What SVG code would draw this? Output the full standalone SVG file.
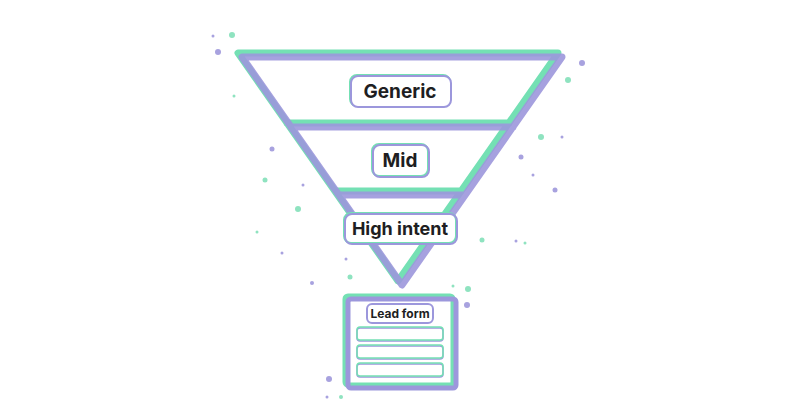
<svg xmlns="http://www.w3.org/2000/svg" width="800" height="420" viewBox="0 0 800 420">
<style>
.g{fill:none;stroke:#74e0b4;stroke-linejoin:round;stroke-linecap:round}
.p{fill:none;stroke:#9c97dc;stroke-linejoin:round;stroke-linecap:round}
.lb{fill:#fff;stroke-width:2}
.t{font-family:Inter,"Liberation Sans",sans-serif;font-weight:700;fill:#1e1e22;text-anchor:middle}
.dg{fill:#8fe3c0}.dp{fill:#a8a2df}
</style>
<rect width="800" height="420" fill="#fff"/>
<g id="dots">
<circle class="dg" cx="232" cy="35" r="3"/><circle class="dp" cx="218" cy="52" r="3"/><circle class="dp" cx="213" cy="36" r="1.5"/>
<circle class="dg" cx="568" cy="80" r="3"/><circle class="dp" cx="582" cy="63" r="3"/><circle class="dg" cx="234" cy="96" r="1.5"/>
<circle class="dg" cx="541" cy="137" r="3"/><circle class="dp" cx="562" cy="137" r="1.5"/><circle class="dp" cx="272" cy="149" r="2.5"/>
<circle class="dp" cx="521" cy="157" r="2.5"/><circle class="dg" cx="265" cy="180" r="2.5"/><circle class="dp" cx="303" cy="185" r="1.5"/>
<circle class="dp" cx="555" cy="190" r="2.5"/><circle class="dp" cx="533" cy="175" r="1.5"/><circle class="dg" cx="298" cy="209" r="3"/>
<circle class="dg" cx="257" cy="232" r="1.5"/><circle class="dp" cx="516" cy="241" r="1.5"/><circle class="dg" cx="482" cy="240" r="2.5"/>
<circle class="dp" cx="282" cy="253" r="1.5"/><circle class="dp" cx="346" cy="259" r="1.5"/><circle class="dg" cx="350" cy="277" r="2.5"/>
<circle class="dp" cx="312" cy="283" r="2"/><circle class="dg" cx="453" cy="286" r="1.5"/><circle class="dg" cx="468" cy="289" r="3"/>
<circle class="dp" cx="467" cy="305" r="3"/><circle class="dp" cx="329" cy="379" r="3"/><circle class="dp" cx="327" cy="397" r="1.5"/>
<circle class="dg" cx="341" cy="397" r="2"/><circle class="dg" cx="525" cy="243" r="1.5"/>
</g>
<g id="funnel">
<path class="g" stroke-width="7" d="M238,53 L558,53 L398,281 Z M287,123 L509,123 M335,191 L461,191"/>
<path class="p" stroke-width="7" opacity="0.9" d="M242,57 L562,57 L402,285 Z M291,127 L513,127 M339,195 L465,195"/>
<path fill="#fff" d="M252,62 L548,62 L400,273 Z" opacity="0"/>
</g>
<g id="generic"><rect class="lb g" x="350" y="75" width="100" height="31" rx="7"/><rect class="lb p" x="351" y="76" width="100" height="31" rx="7" fill="none"/><text class="t" x="400" y="98" font-size="19">Generic</text></g>
<g id="mid"><rect class="lb g" x="372" y="144" width="56" height="32" rx="7"/><rect class="p" stroke-width="2" x="373" y="145" width="56" height="32" rx="7"/><text class="t" x="400" y="167" font-size="19">Mid</text></g>
<g id="high"><rect class="lb g" x="344" y="213" width="112" height="30" rx="7"/><rect class="p" stroke-width="2" x="345" y="214" width="112" height="30" rx="7"/><text class="t" x="400" y="235" font-size="18">High intent</text></g>
<g id="leadform">
<rect class="g" stroke-width="5" fill="#fff" x="345" y="296" width="108" height="89" rx="3"/>
<rect class="p" stroke-width="5" x="348" y="299" width="108" height="89" rx="3"/>
<rect class="lb p" stroke-width="1.5" x="367" y="304" width="66" height="19" rx="5"/>
<text class="t" x="400" y="318" font-size="12">Lead form</text>
<g stroke-width="1.5"><rect class="p" x="357" y="328" width="86" height="13" rx="3"/><rect class="g" x="357" y="327" width="86" height="13" rx="3"/>
<rect class="p" x="357" y="346" width="86" height="13" rx="3"/><rect class="g" x="357" y="345" width="86" height="13" rx="3"/>
<rect class="p" x="357" y="364" width="86" height="13" rx="3"/><rect class="g" x="357" y="363" width="86" height="13" rx="3"/></g>
</g>
</svg>
